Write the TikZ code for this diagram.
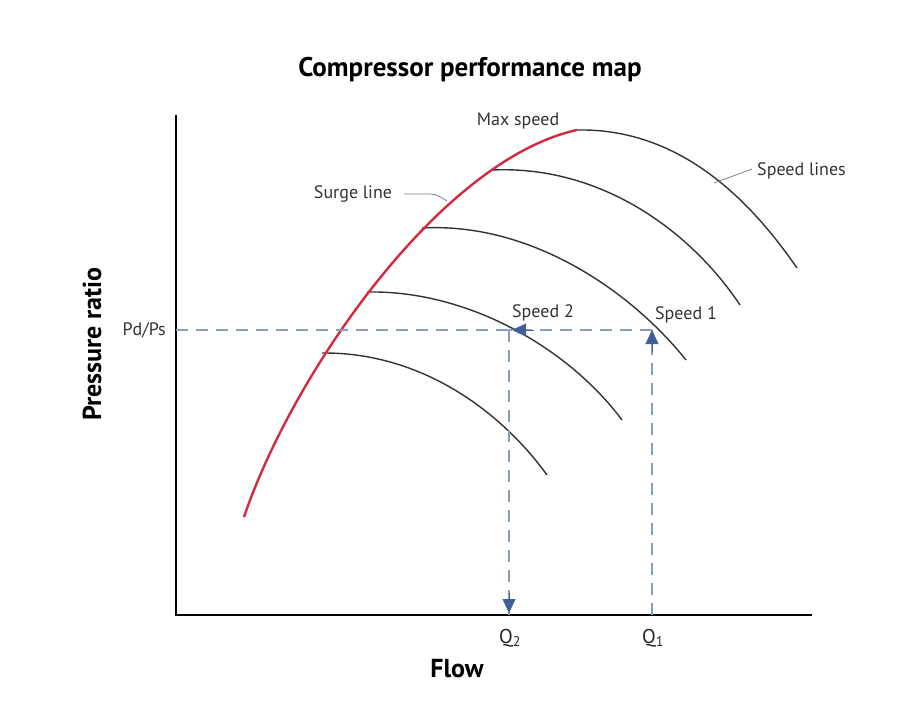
\documentclass[tikz,border=0pt]{standalone}
\usepackage{fontspec}
\setmainfont{PT Sans}
\usetikzlibrary{arrows.meta,calc}
\definecolor{surgered}{HTML}{D42A3F}
\definecolor{dashblue}{HTML}{8A9CBA}
\definecolor{arrowblue}{HTML}{3F5F96}
\definecolor{speedgrey}{HTML}{333333}
\tikzset{
  axis/.style={line width=2pt, black},
  speedline/.style={line width=1.4pt, speedgrey},
  surge/.style={line width=2.4pt, surgered},
  guide/.style={line width=1.3pt, dashblue, dash pattern=on 12pt off 8pt},
  leader/.style={line width=0.8pt, gray},
  lbl/.style={font=\fontsize{18}{20}\selectfont, text=black!80, inner sep=0pt},
  qlbl/.style={font=\fontsize{20}{22}\selectfont, text=black!85, inner sep=0pt},
  axlbl/.style={font=\fontsize{26}{28}\selectfont\bfseries, inner sep=0pt},
  tip/.style={-{Triangle[length=14pt,width=13pt]}, arrowblue}
}
\begin{document}
\begin{tikzpicture}[x=1pt,y=-1pt]
\useasboundingbox (0,0) rectangle (923,723);
% axes
\coordinate (ytop) at (176,115);
\coordinate (orig) at (176,615);
\coordinate (xend) at (812,615);
\draw[axis] (ytop) -- (orig) -- (xend);
% surge line points
\coordinate (s0) at (244,517);
\coordinate (s5) at (577,130);
\coordinate (s4) at (492,170);
\coordinate (s3) at (422,228);
\coordinate (s2) at (367,292);
\coordinate (s1) at (322,353);
% speed line ends
\coordinate (e5) at (797,268);
\coordinate (e4) at (740,305);
\coordinate (e3) at (686,360);
\coordinate (e2) at (622,420);
\coordinate (e1) at (547,475);
\draw[speedline] (s5) .. controls (680,128) and (750,200) .. (e5);
\draw[speedline] (s4) .. controls (600,165) and (690,230) .. (e4);
\draw[speedline] (s3) .. controls (530,222) and (630,290) .. (e3);
\draw[speedline] (s2) .. controls (470,290) and (570,350) .. (e2);
\draw[speedline] (s1) .. controls (420,352) and (500,410) .. (e1);
\draw[surge] (s0) .. controls (292,375) and (440,160) .. (s5);
% operating points
\coordinate (pdps) at (176,330);
\coordinate (p1) at (652,330);
\coordinate (p2) at (509,330);
\coordinate (q1) at (652,615);
\coordinate (q2) at (509,615);
\draw[guide] (pdps) -- (p2);
\draw[guide] (p2) -- (q2);
\draw[guide] (q1) -- (p1);
\draw[guide] (p1) -- (p2);
\draw[tip] ($(p1)+(0,22)$) -- (p1);
\draw[tip] ($(p2)+(25,0)$) -- ($(p2)+(3,0)$);
\draw[tip] ($(q2)+(0,-22)$) -- ($(q2)+(0,-2)$);
% labels
\node[font=\fontsize{27}{30}\selectfont\bfseries, inner sep=0pt] (title) at (470,70) {Compressor performance map};
\node[lbl] (maxspeed) at (518,121) {Max speed};
\node[lbl] (surgelbl) at (353,194) {Surge line};
\node[lbl, anchor=west] (speedlines) at (757,171) {Speed lines};
\node[lbl] (sp2) at (543,313) {Speed 2};
\node[lbl] (sp1) at (686,315) {Speed 1};
\node[lbl, anchor=east] (pdpslbl) at (166,330) {Pd/Ps};
\node[qlbl] (q2lbl) at (510,638) {Q\textsubscript{2}};
\node[qlbl] (q1lbl) at (653,638) {Q\textsubscript{1}};
\node[axlbl] (flow) at (457,669) {Flow};
\node[axlbl, rotate=90] (pr) at (92,344) {Pressure ratio};
% leaders
\coordinate (surgetouch) at (447,201);
\draw[leader] (surgelbl.east) ++(12,0) -- ++(26,0) to[out=0,in=150] (surgetouch);
\coordinate (speedtouch) at (714,183);
\draw[leader] (speedlines.west) ++(-5,-2) -- (speedtouch);
\end{tikzpicture}
\end{document}
